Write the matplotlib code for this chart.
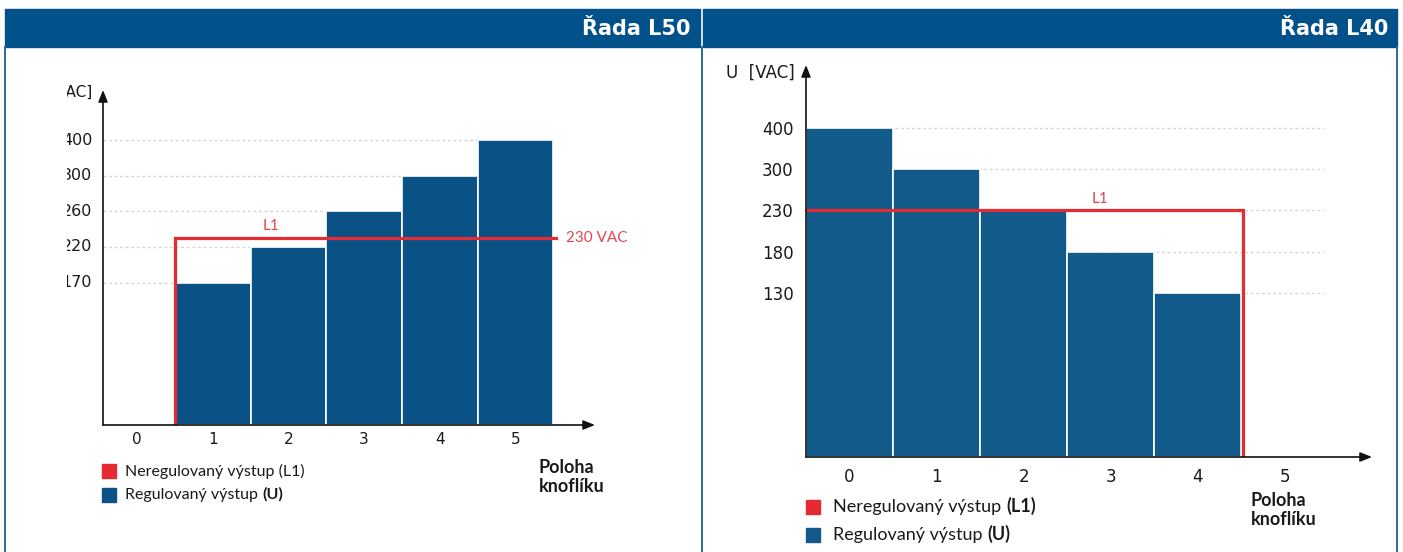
import numpy as np
import matplotlib
matplotlib.use("Agg")
import matplotlib.pyplot as plt
from matplotlib.patches import Rectangle
from matplotlib.transforms import Bbox

# -------------------------------------------------------------
# Data
# -------------------------------------------------------------
knob_labels = ["0", "1", "2", "3", "4", "5"]
knob_positions = [0, 1, 2, 3, 4, 5]

l50_positions = [1, 2, 3, 4, 5]
l50_voltage = [170, 220, 260, 300, 400]
l50_ticks = [170, 220, 260, 300, 400]

l40_positions = [0, 1, 2, 3, 4]
l40_voltage = [400, 300, 230, 180, 130]
l40_ticks = [130, 180, 230, 300, 400]

l1_voltage = 230

HEADER = "#03518a"
BLUE_L = "#0a5185"
BLUE_R = "#125a8a"
RED = "#e42a32"
RED_TXT = "#e8464e"
GRID = "#d6d6d6"
INK = "#1a1a1a"
W, H = 1403, 552


def rect(x0, y0, x1, y1):
    """pixel box (top-left origin) -> figure fraction rect"""
    return [x0 / W, 1 - y1 / H, (x1 - x0) / W, (y1 - y0) / H]


def fx(px):
    return px / W


def fy(py):
    return 1 - py / H


def piecewise_scale(ticks):
    # schematic axis: 0 at bottom, each tick one step apart
    vals = [0] + list(ticks) + [ticks[-1] + 200]
    pos = [0, 4, 5, 6, 7, 8, 10]
    fwd = lambda v: np.interp(v, vals, pos)
    inv = lambda p: np.interp(p, pos, vals)
    return fwd, inv


def draw_axes_arrows(ax):
    ap = dict(arrowstyle="-|>,head_length=0.7,head_width=0.28", color="#111111",
              lw=1.2, shrinkA=0, shrinkB=0)
    ax.annotate("", xy=(0, 1), xytext=(0, 0), xycoords="axes fraction", arrowprops=ap)
    ax.annotate("", xy=(1, 0), xytext=(0, 0), xycoords="axes fraction", arrowprops=ap)


def legend_row(fig, ax, x, y, color, plain, bold, size, gap=23):
    fig.patches.append(Rectangle((fx(x), fy(y + 7)), 14 / W, 14 / H, color=color,
                                 transform=fig.transFigure, figure=fig))
    t = fig.text(fx(x + gap), fy(y), plain, fontsize=size, family="Lato",
                 va="center", ha="left", color=INK)
    if bold:
        ax.annotate(bold, xy=(1, 0), xycoords=t, xytext=(3.5, 0),
                    textcoords="offset points", fontsize=size, family="Lato",
                    fontweight="bold", va="bottom", ha="left", color=INK,
                    annotation_clip=False)


fig = plt.figure(figsize=(W / 100, H / 100), dpi=100)
fig.patch.set_facecolor("white")

# panel frames and headers
for x0, x1, title in [(5, 700, "Řada L50"), (703, 1397, "Řada L40")]:
    fig.patches.append(Rectangle((fx(x0), fy(47)), (x1 - x0) / W, 37.5 / H,
                                 color=HEADER, transform=fig.transFigure, figure=fig))
    fig.text(fx(x1 - 9), fy(29), title, color="white", fontsize=15,
             fontweight="bold", family="DejaVu Sans", ha="right", va="center")
for xl in [5, 701.5, 1397]:
    fig.add_artist(plt.Line2D([fx(xl), fx(xl)], [fy(47), 0], color="#2e6a98", lw=1.4))

# -------------------------------------------------------------
# Left chart: Rada L50 (left edge of the labels is cut off)
# -------------------------------------------------------------
ax1 = fig.add_axes(rect(103, 90, 595, 425))
fwd, inv = piecewise_scale(l50_ticks)
ax1.set_yscale("function", functions=(fwd, inv))
ax1.bar(l50_positions, l50_voltage, width=1, color=BLUE_L, edgecolor="white",
        linewidth=1.2, zorder=2)
ax1.hlines(l50_ticks, -0.45, l50_positions[-1] + 0.5, colors=GRID,
           linestyles=(0, (2, 2)), lw=1, zorder=1)
x_start = l50_positions[0] - 0.5
x_end = l50_positions[-1] + 0.53
ax1.plot([x_start, x_start, x_end], [0, l1_voltage, l1_voltage], color=RED,
         lw=2.3, zorder=3, solid_joinstyle="miter")
ax1.text(1.77, l1_voltage + 6, "L1", color=RED_TXT, fontsize=11, family="Lato",
         ha="center", va="bottom")
ax1.text(x_end + 0.14, l1_voltage, "230 VAC", color=RED_TXT, fontsize=11,
         family="Lato", ha="left", va="center")
ax1.set_xlim(-0.45, 6.05)
ax1.set_ylim(0, inv(9.41))
ax1.set_xticks(knob_positions, knob_labels)
ax1.set_yticks(l50_ticks, [""] * len(l50_ticks))
ax1.tick_params(length=0, labelsize=11, colors=INK)
ax1.tick_params(axis="x", pad=5)
for s in ax1.spines.values():
    s.set_visible(False)
draw_axes_arrows(ax1)

clip = Bbox.from_extents(67, 0, W, H)
ytrans = ax1.get_yaxis_transform()
for v in l50_ticks:
    lab = ax1.text(-0.022, v, str(v), transform=ytrans, fontsize=11.5, ha="right",
                   va="center", color=INK)
    lab.set_clip_on(True)
    lab.set_clip_box(clip)
ylab1 = fig.text(fx(92), fy(92), "U [VAC]", fontsize=11, ha="right", va="center",
                 color=INK)
ylab1.set_clip_on(True)
ylab1.set_clip_box(clip)

legend_row(fig, ax1, 102, 471, RED, "Neregulovaný výstup (L1)", None, 11.5)
legend_row(fig, ax1, 102, 495, BLUE_L, "Regulovaný výstup", "(U)", 11.5)
fig.text(fx(539), fy(477), "Poloha\nknoflíku", fontsize=13, family="Lato",
         fontweight="bold", va="center", ha="left", color=INK, linespacing=1.2)

# -------------------------------------------------------------
# Right chart: Rada L40
# -------------------------------------------------------------
ax2 = fig.add_axes(rect(806, 65, 1372, 457))
fwd2, inv2 = piecewise_scale(l40_ticks)
ax2.set_yscale("function", functions=(fwd2, inv2))
ax2.bar(l40_positions, l40_voltage, width=1, color=BLUE_R, edgecolor="white",
        linewidth=1.2, zorder=2)
ax2.hlines(l40_ticks, -0.5, 5.45, colors=GRID, linestyles=(0, (2, 2)), lw=1, zorder=1)
x_end2 = l40_positions[-1] + 0.52
ax2.plot([-0.5, x_end2, x_end2], [l1_voltage, l1_voltage, 0], color=RED,
         lw=2.3, zorder=3, solid_joinstyle="miter")
ax2.text(2.88, l1_voltage + 8, "L1", color=RED_TXT, fontsize=11, family="Lato",
         ha="center", va="bottom")
ax2.set_xlim(-0.5, 6.0)
ax2.set_ylim(0, inv2(9.54))
ax2.set_xticks(knob_positions, knob_labels)
ax2.set_yticks(l40_ticks, [str(v) for v in l40_ticks])
ax2.tick_params(length=0, labelsize=12, colors=INK)
ax2.tick_params(axis="y", pad=9)
ax2.tick_params(axis="x", pad=8)
for s in ax2.spines.values():
    s.set_visible(False)
draw_axes_arrows(ax2)
fig.text(fx(795), fy(73), "U  [VAC]", fontsize=12, ha="right", va="center",
         color=INK)

legend_row(fig, ax2, 806, 507, RED, "Neregulovaný výstup", "(L1)", 13, gap=27)
legend_row(fig, ax2, 806, 535, BLUE_R, "Regulovaný výstup", "(U)", 13, gap=27)
fig.text(fx(1251), fy(510), "Poloha\nknoflíku", fontsize=13, family="Lato",
         fontweight="bold", va="center", ha="left", color=INK, linespacing=1.2)

fig.savefig("out.png", dpi=100)
